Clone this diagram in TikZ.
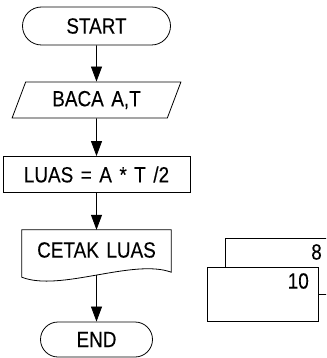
\documentclass[tikz,border=0pt]{standalone}
\usepackage{fontspec}
\setmainfont{Liberation Sans}[FakeStretch=0.86, FakeBold=0.2]
\usetikzlibrary{shapes.geometric,shapes.misc,arrows.meta,calc}
\tikzset{
  line/.style={line width=0.8pt},
  flow/.style={line, -{Triangle[width=11pt,length=15pt]}},
  term/.style={line, draw, rounded rectangle, inner sep=0pt},
  io/.style={line, draw, trapezium, trapezium left angle=65, trapezium right angle=115,
    trapezium stretches=true, inner sep=0pt},
  proc/.style={line, draw, rectangle, inner sep=0pt},
  memcell/.style={line, draw, rectangle, inner sep=0pt, anchor=north west}
}
\begin{document}
\begin{tikzpicture}[x=1pt, y=-1pt, font=\fontsize{22}{25}\selectfont,
	execute at begin node={\spaceskip=7.5pt\relax}]
	\def\cx{96.5}
	\useasboundingbox (0,0) rectangle (326,358);
	\clip (0,0) rectangle (326,358);
	
	% flowchart
	\node[term, minimum width=148pt, minimum height=38pt] (start) at (\cx,26) {START};
	\node[io, minimum width=169pt, minimum height=36pt] (read) at (\cx,100) {BACA A,T};
	\node[proc, minimum width=187pt, minimum height=36pt] (area) at (\cx,174.5) {LUAS = A * T /2};
	\node[inner sep=0pt, minimum width=149pt, minimum height=40pt] (print) at (\cx,250) {CETAK LUAS};
	\draw[line] (print.north west) -- (print.north east) -- ($(print.south east)+(0,2)$)
		.. controls +(-38,-14) and +(38,15) .. ($(print.south west)+(0,7)$)
		coordinate[pos=0.5] (printout) -- cycle;
	\node[term, minimum width=112pt, minimum height=35pt] (stop) at (\cx,339.5) {END};
	
	\draw[flow] (start) -- (read);
	\draw[flow] (read) -- (area);
	\draw[flow] (area) -- (print.north);
	\draw[flow] (printout) -- (stop);
	
	% memory cells
	\node[memcell, minimum width=115pt, minimum height=56pt] (mem8) at (225,238) {};
	\node[memcell, fill=white, minimum width=111pt, minimum height=54pt] (mem10) at (207,267) {};
	\node[anchor=east, inner sep=0pt] (val8) at (322,252) {8};
	\node[anchor=east, inner sep=0pt] (val10) at (309,281) {10};
\end{tikzpicture}
\end{document}
